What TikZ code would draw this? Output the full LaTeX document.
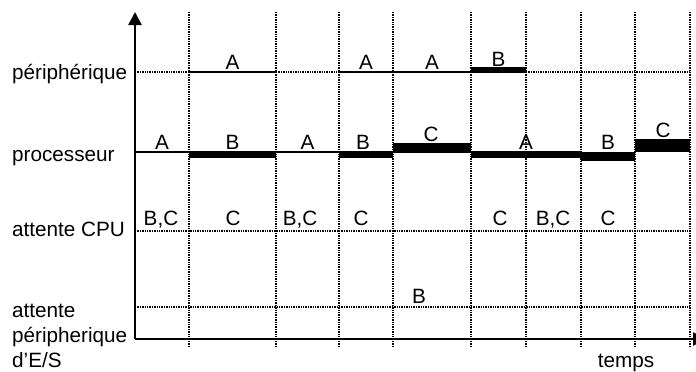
\documentclass[tikz,border=0pt]{standalone}
\usepackage{fontspec}
\setmainfont{Liberation Sans}
\usetikzlibrary{arrows.meta}
\begin{document}
\begin{tikzpicture}[x=1pt,y=-1pt,
  gridline/.style={line width=1.6pt, dash pattern=on 1.3pt off 1.1pt},
  axisline/.style={line width=2.3pt, -{Triangle[width=13pt,length=13pt]}},
  runline/.style={line width=2.2pt},
  busy/.style={fill=black, draw=none},
  lbl/.style={font=\fontsize{20.7}{24}\selectfont, inner sep=0pt, anchor=base},
  rowlbl/.style={font=\fontsize{20.7}{24}\selectfont, inner sep=0pt, anchor=base west, align=left}]
\useasboundingbox (0,0) rectangle (696,372);

% time-slice boundaries
\foreach \x in {189,276,339,393,471,526,581,635,690}
  \draw[gridline] (\x,12) -- (\x,347);

% row guides
\draw[gridline] (135,72) -- (189,72);
\draw[gridline] (276,72) -- (339,72);
\draw[gridline] (526,72) -- (690,72);
\draw[gridline] (135,231) -- (690,231);
\draw[gridline] (135,307) -- (690,307);

% device activity
\draw[runline] (189,72) -- (276,72);
\draw[runline] (339,72) -- (471,72);
\fill[busy] (471,66.5) rectangle (526,73);

% processor activity
\draw[runline] (135,152) -- (189,152);
\draw[runline] (276,152) -- (339,152);
\fill[busy] (189,151) rectangle (276,157.5);
\fill[busy] (339,151) rectangle (393,158);
\fill[busy] (393,143) rectangle (471,153);
\fill[busy] (471,151) rectangle (581,158);
\fill[busy] (581,152) rectangle (635,161);
\fill[busy] (635,139) rectangle (690,152);

% axes
\coordinate (origin) at (135,339);
\coordinate (ytip) at (135,12);
\coordinate (xtip) at (706,339);
\draw[axisline] (origin) -- (ytip);
\draw[axisline] (origin) -- (xtip);

% row names
\node[rowlbl] (rperiph) at (12,79) {périphérique};
\node[rowlbl] (rcpu) at (12,161) {processeur};
\node[rowlbl] (rwait) at (12,236) {attente CPU};
\node[rowlbl] (rio1) at (12,317) {attente};
\node[rowlbl] (rio2) at (12,342) {péripherique};
\node[rowlbl] (rio3) at (12,367) {d’E/S};
\node[lbl] (time) at (626,367) {temps};

% device row labels
\node[lbl] (p1) at (232.5,69) {A};
\node[lbl] (p2) at (366,69) {A};
\node[lbl] (p3) at (432,69) {A};
\node[lbl] (p4) at (498.5,66) {B};

% processor row labels
\node[lbl] (c1) at (162,149) {A};
\node[lbl] (c2) at (232.5,149) {B};
\node[lbl] (c3) at (307.5,149) {A};
\node[lbl] (c4) at (363,149) {B};
\node[lbl] (c5) at (431,141) {C};
\node[lbl] (c6) at (526,149) {A};
\node[lbl] (c7) at (608,149) {B};
\node[lbl] (c8) at (663,137) {C};

% ready queue labels
\node[lbl] (w1) at (161,225) {B,C};
\node[lbl] (w2) at (233,225) {C};
\node[lbl] (w3) at (300,225) {B,C};
\node[lbl] (w4) at (361,225) {C};
\node[lbl] (w5) at (500,225) {C};
\node[lbl] (w6) at (553,225) {B,C};
\node[lbl] (w7) at (608,225) {C};

% I/O wait label
\node[lbl] (io1) at (419,303) {B};
\end{tikzpicture}
\end{document}
